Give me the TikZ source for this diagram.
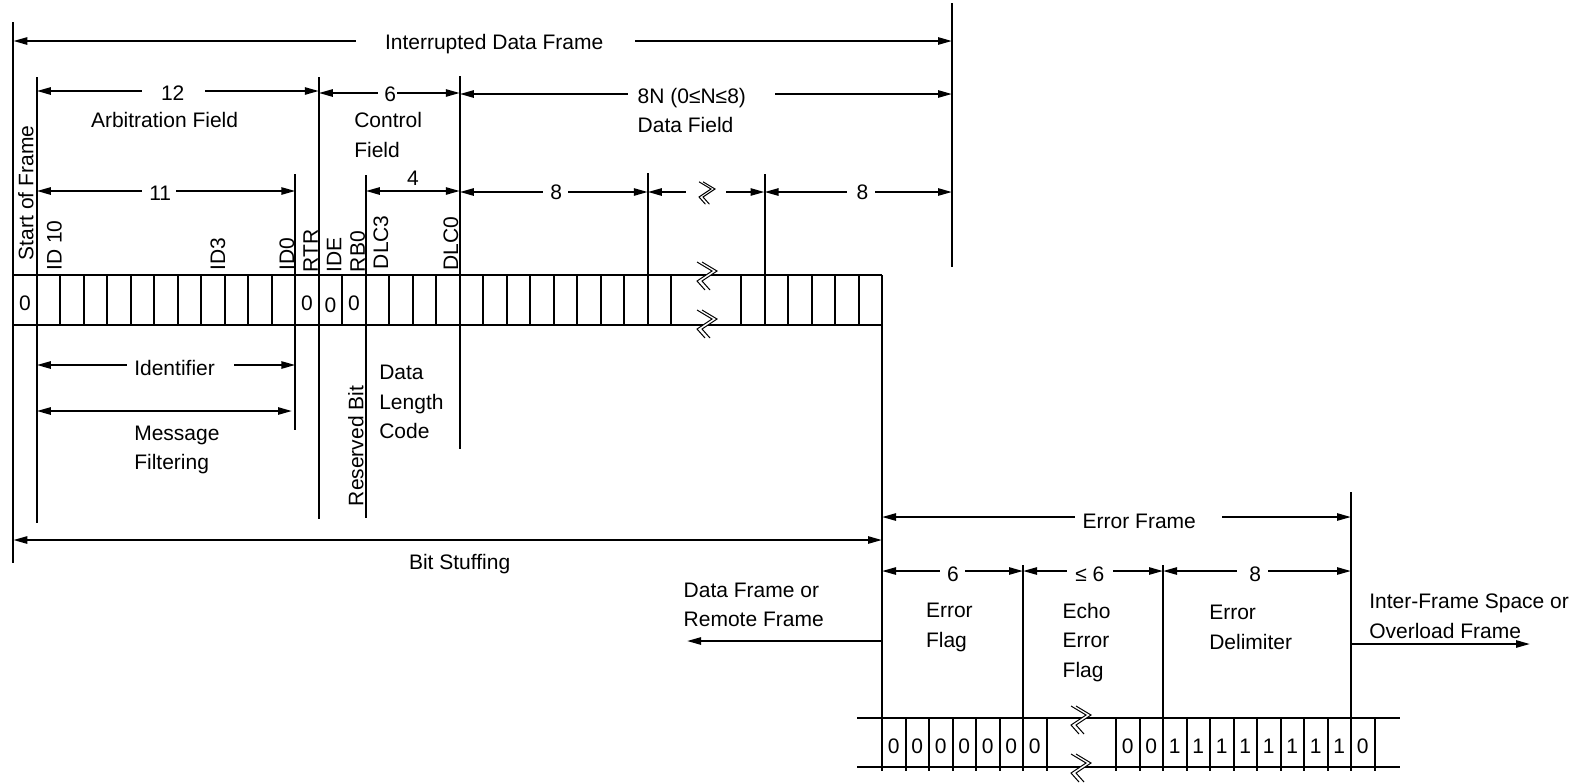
\documentclass[tikz,border=0pt]{standalone}
\usepackage{fontspec}
\setmainfont{Liberation Sans}
\usetikzlibrary{arrows.meta}
\tikzset{
  brk/.pic={
    \fill[white] (-10,-14) -- (5,-5) -- (-10,5) -- (-2,14) -- (3,14) -- (-5,5) -- (10,-5) -- (-5,-14) -- cycle;
    \draw[line width=0.5pt] (-10,-14) -- (5,-5) -- (-10,5) -- (-2,14);
    \draw[line width=0.5pt] (-5,-14) -- (10,-5) -- (-5,5) -- (3,14);
  }
}
\begin{document}
\begin{tikzpicture}[x=0.5pt,y=-0.5pt,line width=1pt,
  every node/.style={font=\fontsize{10.5}{14.75}\selectfont, inner sep=0pt},
  txt/.style={anchor=base west, align=left},
  vtxt/.style={anchor=base west, rotate=90},
  dig/.style={anchor=base},
  larr/.style={{Triangle[length=7pt,width=3.6pt]}-},
  rarr/.style={-{Triangle[length=7pt,width=3.6pt]}},
  dimboth/.style={{Triangle[length=7pt,width=3.6pt]}-{Triangle[length=7pt,width=3.6pt]}}
]
\useasboundingbox (0,0) rectangle (1583,783);

% ---------- top bit row ----------
\draw (13.3,275) -- (882,275);
\draw (13.3,325) -- (882,325);
\foreach \k in {1,...,28} \draw ({13.3+23.5*\k},275) -- ({13.3+23.5*\k},325);
\foreach \j in {0,...,5} \draw ({741+23.5*\j},275) -- ({741+23.5*\j},325);
\pic at (707,276) {brk};
\pic at (707,324) {brk};

% ---------- long vertical lines ----------
\draw (13.3,22) -- (13.3,563);
\draw (36.8,77) -- (36.8,523);
\draw (295.3,174) -- (295.3,430);
\draw (318.8,77) -- (318.8,519);
\draw (365.8,175) -- (365.8,518);
\draw (459.8,76) -- (459.8,449);
\draw (647.8,173) -- (647.8,275);
\draw (764.5,174) -- (764.5,275);
\draw (952,3) -- (952,267);
\draw (882,275) -- (882,771);
\draw (1023,565) -- (1023,771);
\draw (1163,565) -- (1163,771);
\draw (1351,492) -- (1351,771);

% ---------- dimension arrows (top) ----------
\node[txt] (idf) at (384,49.5) {Interrupted Data Frame};
\draw[larr] (13.3,41) -- (356,41);
\draw[rarr] (635,41) -- (952,41);

\node[txt] (n12) at (160,100) {12};
\draw[larr] (36.8,91) -- (141.7,91);
\draw[rarr] (205,91) -- (318.8,91);
\node[txt] (arb) at (90,127) {Arbitration Field};

\node[txt] (n6) at (383.3,101) {6};
\draw[larr] (318.8,93) -- (378,93);
\draw[rarr] (397,93) -- (459.8,93);
\node[txt] (ctl) at (353.3,157) {Control\\Field};

\node[txt] (n8N) at (636.7,103) {8N (0≤N≤8)};
\draw[larr] (459.8,94) -- (628,94);
\draw[rarr] (775,94) -- (952,94);
\node[txt] (df) at (636.7,132) {Data Field};

\node[txt] (n11) at (148.3,200) {11};
\draw[larr] (36.8,191) -- (141.7,191);
\draw[rarr] (176,191) -- (295.3,191);

\node[txt] (n4) at (406,185) {4};
\draw[dimboth] (365.8,191) -- (459.8,191);

\node[txt] (n8a) at (549.3,199) {8};
\draw[larr] (459.8,192) -- (543,192);
\draw[rarr] (568,192) -- (647.8,192);

\draw[larr] (647.8,192) -- (686,192);
\draw[rarr] (726,192) -- (764.5,192);
\pic[scale=0.8] at (707,193) {brk};

\node[txt] (n8b) at (855.7,199) {8};
\draw[larr] (764.5,192) -- (847,192);
\draw[rarr] (875,192) -- (952,192);

% ---------- vertical labels ----------
\node[vtxt] (sof) at (33.3,261) {Start of Frame};
\node[vtxt] (id10) at (61.7,271.7) {ID 10};
\node[vtxt] (id3) at (225,271.7) {ID3};
\node[vtxt] (id0) at (294,271.7) {ID0};
\node[vtxt] (rtr) at (317.8,273) {RTR};
\node[vtxt] (ide) at (341.3,273) {IDE};
\node[vtxt] (rb0) at (364.8,273) {RB0};
\node[vtxt] (dlc3) at (388,270) {DLC3};
\node[vtxt] (dlc0) at (458,271.7) {DLC0};
\node[vtxt] (rsv) at (363.3,507) {Reserved Bit};

% ---------- top row values ----------
\node[dig] (v0) at (25,310) {0};
\node[dig] (v1) at (307,310) {0};
\node[dig] (v2) at (330.5,312.5) {0};
\node[dig] (v3) at (354,310) {0};

% ---------- lower left labels ----------
\node[txt] (ident) at (133.3,375) {Identifier};
\draw[larr] (36.8,365) -- (127,365);
\draw[rarr] (234,365) -- (295.3,365);
\draw[dimboth] (36.8,411) -- (292,411);
\node[txt] (msg) at (133.3,469) {Message\\[-0.7pt]Filtering};
\node[txt] (dlc) at (378.3,438.5) {Data\\Length\\Code};

\draw[dimboth] (13.3,540) -- (882,540);
\node[txt] (bs) at (408,569) {Bit Stuffing};

% ---------- error frame ----------
\node[txt] (ef) at (1081.7,528) {Error Frame};
\draw[larr] (882,517) -- (1075,517);
\draw[rarr] (1222,517) -- (1351,517);

\node[txt] (e6) at (946,581.7) {6};
\draw[larr] (882,571) -- (940,571);
\draw[rarr] (965,571) -- (1023,571);
\node[txt] (le6) at (1074.3,581.7) {≤ 6};
\draw[larr] (1023,571) -- (1067,571);
\draw[rarr] (1113,571) -- (1163,571);
\node[txt] (e8) at (1248.3,581.7) {8};
\draw[larr] (1163,571) -- (1237,571);
\draw[rarr] (1268,571) -- (1351,571);

\node[txt] (eflag) at (925,647) {Error\\Flag};
\node[txt] (echo) at (1061.7,677) {Echo\\Error\\Flag};
\node[txt] (edel) at (1208.3,649) {Error\\Delimiter};
\node[txt] (ifs) at (1368.3,638) {Inter-Frame Space or\\Overload Frame};
\node[txt] (dfr) at (682.7,626.7) {Data Frame or\\Remote Frame};
\draw[rarr] (882,641) -- (687,641);
\draw[rarr] (1351,644) -- (1530,644);

% ---------- bottom bit row ----------
\draw (857,718) -- (1400,718);
\draw (857,767) -- (1400,767);
\foreach \x in {905.5,929,952.5,976,999.5,1046.5,1116,1139.5,1186.5,1210,1233.5,1257,1280.5,1304,1327.5,1374.5}
  \draw (\x,718) -- (\x,771);
\pic at (1081,720) {brk};
\pic at (1081,768) {brk};
\foreach \k in {0,...,6} \node[dig] at ({893.75+23.5*\k},753) {0};
\node[dig] at (1127.75,753) {0};
\node[dig] at (1151.25,753) {0};
\foreach \k in {0,...,7} \node[dig] at ({1174.75+23.5*\k},753) {1};
\node[dig] at (1362.75,753) {0};
\end{tikzpicture}
\end{document}
